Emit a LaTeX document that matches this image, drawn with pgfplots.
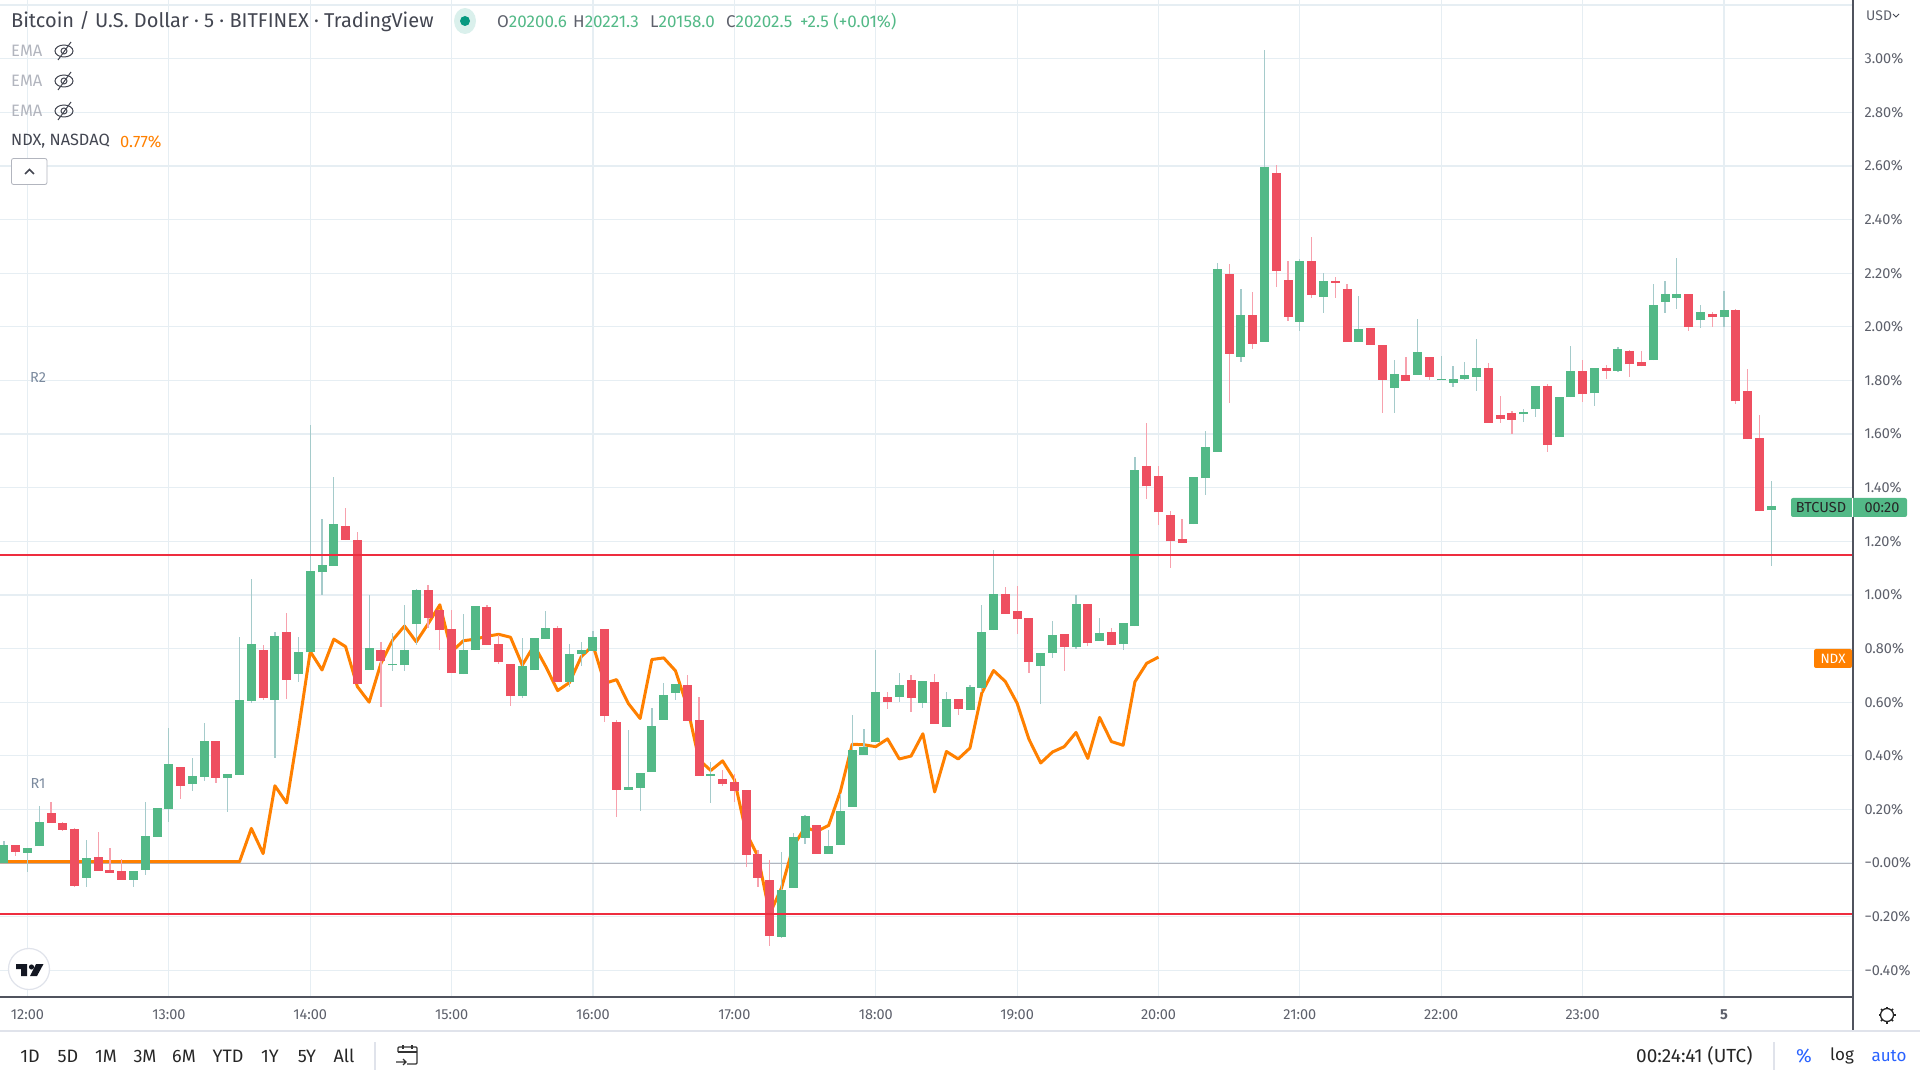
\documentclass[border=0pt]{standalone}
\usepackage{fontspec}
\setmainfont{Fira Sans}
\usepackage{pgfplots}
\usepackage{pgfplotstable}
\pgfplotsset{compat=1.18}

\definecolor{upbody}{HTML}{53B987}
\definecolor{upwick}{HTML}{A5CBCB}
\definecolor{downbody}{HTML}{EE4F60}
\definecolor{downwick}{HTML}{F7A1AD}
\definecolor{ndx}{HTML}{FF8000}
\definecolor{level}{HTML}{EE2D3F}
\definecolor{gridc}{HTML}{E6EEF3}
\definecolor{zeroc}{HTML}{B2B5BE}
\definecolor{framec}{HTML}{50535E}
\definecolor{ticktxt}{HTML}{5D606B}
\definecolor{titletxt}{HTML}{434651}
\definecolor{emac}{HTML}{B2B5BE}
\definecolor{rlabel}{HTML}{7B8A9E}
\definecolor{linkc}{HTML}{2962FF}
\definecolor{sepc}{HTML}{E0E3EB}
\definecolor{livedot}{HTML}{089981}
\definecolor{logoc}{HTML}{131722}

\newcommand{\fs}[1]{\fontsize{#1}{#1}\selectfont}

% x lo hi low high, x counts 5 minute candles from 12:00
\pgfplotstableread{
x lo hi low high
-2 0 .068 0 .083
0 .039 .057 -.035 .057
1 .062 .154 .062 .214
5 -.055 .020 -.088 .087
9 -.062 -.029 -.088 -.029
10 -.025 .102 -.043 .229
11 .098 .206 .098 .206
12 .202 .370 .154 .504
14 .296 .325 .270 .393
15 .322 .456 .307 .523
17 .318 .333 .191 .333
18 .329 .609 .329 .843
19 .605 .817 .598 1.060
21 .609 .847 .393 .862
23 .706 .788 .676 .843
24 .786 1.088 .786 1.632
25 1.084 1.111 .999 1.282
26 1.107 1.263 1.107 1.439
29 .719 .801 .719 .999
31 .737 .744 .716 .857
32 .738 .794 .716 .961
33 .891 1.017 .812 1.021
37 .704 .794 .704 .928
38 .794 .958 .794 .958
42 .622 .734 .615 .839
43 .719 .839 .719 .839
44 .835 .876 .835 .939
46 .675 .779 .656 .816
47 .779 .794 .734 .824
48 .790 .842 .790 .865
51 .274 .284 .274 .497
52 .281 .337 .195 .337
53 .340 .512 .340 .579
54 .534 .627 .534 .672
55 .635 .668 .609 .668
58 .325 .333 .225 .378
64 -.275 -.099 -.278 .042
65 -.092 .098 -.092 .113
66 .094 .176 .072 .180
68 .035 .065 .035 .124
69 .068 .195 .068 .258
70 .210 .422 .210 .553
71 .404 .434 .404 .501
72 .452 .639 .452 .795
74 .620 .665 .601 .709
76 .598 .680 .579 .680
78 .508 .612 .508 .639
80 .571 .657 .571 .665
81 .653 .862 .639 .961
82 .868 1.002 .868 1.166
86 .734 .783 .593 .783
87 .783 .850 .764 .902
89 .805 .965 .798 .999
91 .827 .857 .827 .913
93 .816 .894 .794 .894
94 .883 1.465 .883 1.513
99 1.263 1.439 1.263 1.439
100 1.435 1.550 1.371 1.610
101 1.534 2.216 1.534 2.239
103 1.888 2.045 1.870 2.142
105 1.944 2.596 1.944 3.032
108 2.019 2.246 1.985 2.253
110 2.112 2.171 2.052 2.201
113 1.944 1.993 1.944 2.116
116 1.773 1.825 1.680 1.877
118 1.821 1.907 1.821 2.030
120 1.800 1.806 1.800 1.892
121 1.791 1.806 1.776 1.855
122 1.806 1.821 1.802 1.870
123 1.814 1.847 1.762 1.955
127 1.673 1.681 1.646 1.694
128 1.692 1.778 1.662 1.778
130 1.588 1.737 1.588 1.740
131 1.737 1.834 1.737 1.927
133 1.752 1.848 1.703 1.848
135 1.837 1.919 1.834 1.923
138 1.875 2.080 1.875 2.161
139 2.094 2.124 2.053 2.169
140 2.106 2.124 2.068 2.258
142 2.024 2.057 1.994 2.083
144 2.035 2.061 2.001 2.132
148 1.316 1.330 1.107 1.424
}\upcandles

\pgfplotstableread{
x lo hi low high
-1 .042 .068 .025 .068
2 .150 .188 .150 .229
3 .124 .150 .118 .154
4 -.084 .128 -.088 .132
6 -.029 .024 -.029 .117
7 -.036 -.025 -.036 .057
8 -.062 -.029 -.062 .016
13 .288 .359 .240 .359
16 .318 .456 .299 .456
20 .616 .795 .609 .814
22 .683 .862 .612 .933
27 1.204 1.256 1.204 1.323
28 .667 1.204 .667 1.234
30 .753 .794 .581 .824
34 .913 1.017 .876 1.036
35 .868 .943 .794 .943
36 .708 .872 .708 .943
39 .812 .954 .812 .961
40 .749 .816 .742 .850
41 .622 .742 .585 .742
45 .675 .876 .675 .883
49 .548 .872 .525 .872
50 .273 .527 .173 .534
56 .530 .665 .530 .702
57 .325 .534 .325 .620
59 .296 .314 .288 .348
60 .270 .303 .229 .333
61 .031 .273 -.014 .273
62 -.055 .035 -.088 .050
63 -.271 -.062 -.308 .012
67 .035 .143 .035 .143
73 .601 .620 .575 .639
75 .616 .683 .564 .702
77 .519 .676 .519 .706
79 .575 .612 .553 .612
83 .928 1.002 .928 1.029
84 .909 .939 .853 1.032
85 .749 .913 .708 .913
88 .805 .853 .716 .853
90 .820 .965 .809 .965
92 .812 .861 .812 .876
95 1.405 1.479 1.357 1.640
96 1.308 1.442 1.260 1.479
97 1.200 1.297 1.099 1.312
98 1.193 1.207 1.193 1.282
102 1.899 2.198 1.717 2.235
104 1.937 2.045 1.918 2.130
106 2.209 2.574 2.149 2.604
107 2.037 2.175 2.022 2.246
109 2.119 2.246 2.108 2.335
111 2.164 2.171 2.108 2.186
112 1.944 2.142 1.944 2.160
114 1.933 1.996 1.933 1.996
115 1.802 1.933 1.680 1.933
117 1.799 1.821 1.799 1.888
119 1.814 1.888 1.802 1.888
124 1.642 1.847 1.642 1.866
125 1.657 1.672 1.642 1.743
126 1.653 1.680 1.600 1.687
129 1.561 1.778 1.532 1.785
132 1.748 1.834 1.718 1.875
134 1.837 1.848 1.804 1.856
136 1.860 1.908 1.811 1.912
137 1.852 1.867 1.852 1.908
141 2.001 2.124 1.983 2.124
143 2.035 2.046 1.998 2.057
145 1.722 2.061 1.711 2.065
146 1.580 1.759 1.580 1.841
147 1.312 1.584 1.312 1.670
}\downcandles

\pgfplotstableread{
x y
-3 .005
18 .005
19 .129
20 .035
21 .288
22 .224
23 .497
24 .789
25 .720
26 .835
27 .807
28 .658
29 .600
30 .745
31 .832
32 .884
33 .825
34 .892
35 .963
36 .788
37 .829
38 .835
39 .846
40 .853
41 .842
42 .738
43 .812
44 .732
45 .643
46 .673
47 .769
48 .812
49 .670
50 .684
51 .595
52 .539
53 .759
54 .765
55 .717
56 .584
57 .385
58 .345
59 .381
60 .311
61 .112
62 .025
63 -.190
64 -.093
65 .062
66 .133
67 .118
68 .140
69 .267
70 .443
71 .441
72 .434
73 .463
74 .388
75 .399
76 .482
77 .265
78 .416
79 .388
80 .429
81 .634
82 .718
83 .677
84 .596
85 .462
86 .373
87 .414
88 .434
89 .487
90 .390
91 .543
92 .453
93 .439
94 .676
95 .745
96 .768
}\ndxline

\begin{document}
\begin{tikzpicture}
\useasboundingbox (0pt,0pt) rectangle (1920pt,1080pt);

\begin{axis}[
at={(0pt,83pt)},
anchor=south west,
width=1853pt,
height=997pt,
scale only axis,
xmin=-2.334, xmax=154.95,
ymin=-0.4998, ymax=3.219,
axis x line*=bottom,
axis y line*=right,
axis line style={-,color=framec,line width=1.2pt},
major tick length=0pt,
grid=major,
grid style={color=gridc,line width=1.2pt},
xtick={0,12,24,36,48,60,72,84,96,108,120,132,144},
xticklabels={12:00,13:00,14:00,15:00,16:00,17:00,18:00,19:00,20:00,21:00,22:00,23:00,\textbf{5}},
ytick={-0.4,-0.2,0,0.2,0.4,0.6,0.8,1,1.2,1.4,1.6,1.8,2,2.2,2.4,2.6,2.8,3,3.2},
yticklabels={−0.40\%,−0.20\%,−0.00\%,0.20\%,0.40\%,0.60\%,0.80\%,1.00\%,1.20\%,1.40\%,1.60\%,1.80\%,2.00\%,2.20\%,2.40\%,2.60\%,2.80\%,3.00\%,},
tick label style={font=\fs{14.5},text=ticktxt},
xticklabel style={anchor=center,yshift=-18pt},
yticklabel style={anchor=west,xshift=8pt},
error bars/error mark=none,
]

% zero line
\addplot[color=zeroc,line width=1pt,forget plot] coordinates {(-3,0)(155,0)};

% NDX comparison, under the candles
\addplot[color=ndx,line width=3pt,line join=round] table[x=x,y=y] {\ndxline};

% wicks
\addplot[draw=none,mark=none,forget plot,
  error bars/.cd,y dir=both,y explicit,
  error bar style={color=upwick,line width=1.2pt}]
  table[x=x,y=lo,y error plus expr=\thisrow{high}-\thisrow{lo},y error minus expr=\thisrow{lo}-\thisrow{low}] {\upcandles};
\addplot[draw=none,mark=none,forget plot,
  error bars/.cd,y dir=both,y explicit,
  error bar style={color=downwick,line width=1.2pt}]
  table[x=x,y=lo,y error plus expr=\thisrow{high}-\thisrow{lo},y error minus expr=\thisrow{lo}-\thisrow{low}] {\downcandles};

% bodies
\addplot[draw=none,mark=none,forget plot,
  error bars/.cd,y dir=plus,y explicit,
  error bar style={color=upbody,line width=9pt}]
  table[x=x,y=lo,y error plus expr=\thisrow{hi}-\thisrow{lo}] {\upcandles};
\addplot[draw=none,mark=none,forget plot,
  error bars/.cd,y dir=plus,y explicit,
  error bar style={color=downbody,line width=9pt}]
  table[x=x,y=lo,y error plus expr=\thisrow{hi}-\thisrow{lo}] {\downcandles};

% horizontal levels
\addplot[color=level,line width=2pt,forget plot] coordinates {(-3,1.15)(155,1.15)};
\addplot[color=level,line width=2pt,forget plot] coordinates {(-3,-0.19)(155,-0.19)};

\end{axis}

% chart furniture, in pixels from the top left corner
\begin{scope}[yshift=1080pt,x=1pt,y=-1pt]
\draw[framec,line width=1.2pt] (1853,0) -- (1853,1031);
\draw[sepc,line width=1.2pt] (0,1031) -- (1920,1031);

\node[anchor=west,inner sep=0,text=titletxt,font=\fs{20}] at (11,21.5) {Bitcoin / U.S. Dollar · 5 · BITFINEX · TradingView};
\fill[livedot!15] (465,21) ellipse (11 and 13);
\fill[livedot] (465,21) circle (5);
\foreach \x/\lab/\v in {497/O/20200.6,573/H/20221.3,650/L/20158.0,726/C/20202.5}{
  \node[anchor=west,inner sep=0,font=\fs{17}] at (\x,21.5) {\textcolor{ticktxt}{\lab}\textcolor{upbody}{\v}};
}
\node[anchor=west,inner sep=0,text=upbody,font=\fs{17}] at (800,21.5) {+2.5 (+0.01\%)};

\foreach \y in {51,81,111}{
  \node[anchor=west,inner sep=0,text=emac,font=\fs{16.5}] at (11,\y) {EMA};
  \draw[titletxt,line width=1pt] (64,\y) ellipse (9 and 6);
  \draw[titletxt,line width=1pt] (64,\y) circle (3);
  \draw[titletxt,line width=1pt] (58,\y+9) -- (71,\y-9);
}
\node[anchor=west,inner sep=0,text=titletxt,font=\fs{16.3}] at (11,141.5) {NDX, NASDAQ};
\node[anchor=west,inner sep=0,text=ndx,font=\fs{16.5}] at (120,141.5) {0.77\%};
\draw[emac,fill=white,rounded corners=2pt,line width=.8pt] (11.5,158.5) rectangle (47,184.5);
\draw[titletxt,line width=1.5pt] (25,174) -- (29.5,169.5) -- (34,174);

\node[text=rlabel,font=\fs{14.5}] at (38,378) {R2};
\node[text=rlabel,font=\fs{14.5}] at (38,784) {R1};

% logo
\draw[sepc,fill=white,line width=1.2pt] (29,969) circle (20.5);
\fill[logoc] (16,964) -- (27,964) -- (27,976) -- (21,976) -- (21,969) -- (16,969) -- cycle;
\fill[logoc] (31.5,967) circle (2.6);
\fill[logoc] (36,964) -- (43.5,964) -- (37,976) -- (30,976) -- cycle;

% right side tags
\node[anchor=west,inner sep=0,text=ticktxt,font=\fs{14}] at (1866,16) {USD};
\draw[titletxt,line width=1pt] (1893,14) -- (1896,17) -- (1899,14);
\fill[ndx,rounded corners=2pt] (1814,649) rectangle (1852,668);
\node[text=white,font=\fs{13.5}] at (1833,658.5) {NDX};
\fill[upbody,rounded corners=2pt] (1791,498) rectangle (1907,517);
\draw[white,line width=.8pt] (1852.5,498) -- (1852.5,517);
\node[text=black!85,font=\fs{14.5}] at (1821,507.5) {BTCUSD};
\node[text=black!85,font=\fs{14.5}] at (1882,507.5) {00:20};

% gear
\draw[black!85,line width=1.3pt] (1887,1015) circle (6.5);
\foreach \a in {0,45,...,315}{
  \draw[black!85,line width=1.6pt] (1887,1015) ++(\a:6.5) -- ++(\a:2);
}

% bottom bar
\foreach \x/\lab in {30/1D,68/5D,106/1M,145/3M,184/6M,228/YTD,270/1Y,307/5Y,344/All}{
  \node[text=black!85,font=\fs{18}] at (\x,1056) {\lab};
}
\draw[sepc,line width=1.2pt] (375,1042) -- (375,1070);
\draw[black!80,line width=1.2pt,rounded corners=1pt] (398,1052) -- (398,1047) -- (417,1047) -- (417,1064) -- (407,1064);
\draw[black!80,line width=1.2pt] (398,1052) -- (417,1052) (403,1045) -- (403,1049) (412,1045) -- (412,1049);
\draw[black!80,line width=1.2pt] (396,1062) -- (406,1062) (403,1059) -- (406,1062) -- (403,1065);

\node[anchor=west,inner sep=0,text=black!85,font=\fs{19}] at (1636,1056) {00:24:41 (UTC)};
\draw[sepc,line width=1.2pt] (1774,1042) -- (1774,1070);
\node[text=linkc,font=\fs{19}] at (1804,1056) {\%};
\node[text=black!85,font=\fs{17}] at (1842,1056) {log};
\node[text=linkc,font=\fs{17}] at (1889,1056) {auto};
\end{scope}
\end{tikzpicture}
\end{document}
